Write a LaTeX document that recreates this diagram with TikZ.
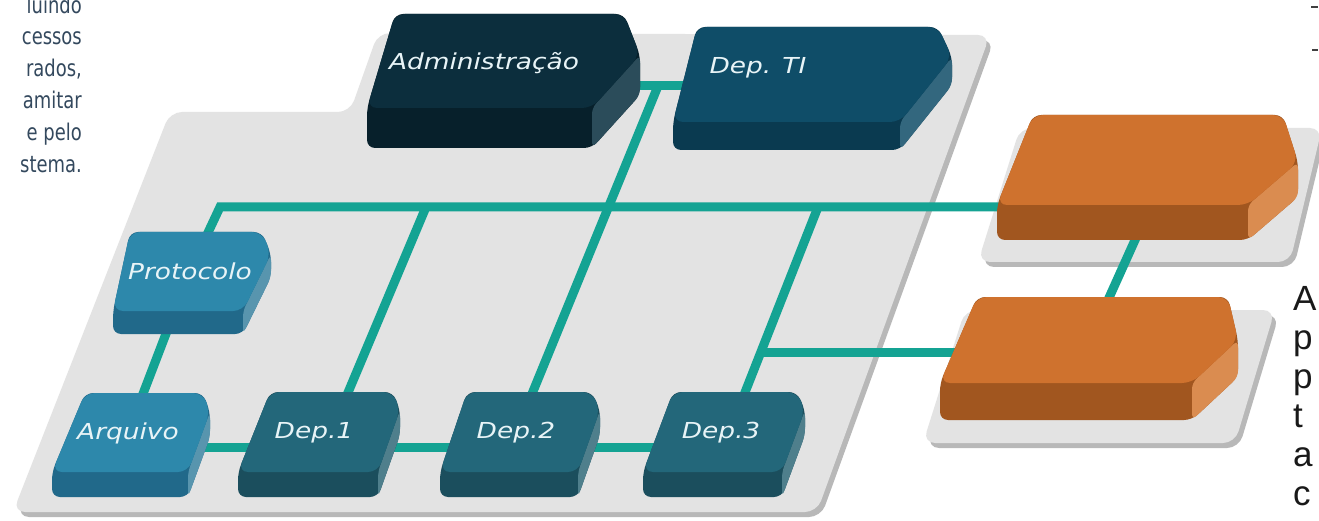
\documentclass[tikz,border=0pt]{standalone}
\usepackage{fontspec}
\usetikzlibrary{calc}
\newfontfamily\lblfont[FakeStretch=1.2]{DejaVu Sans}
\newfontfamily\leftfont[FakeStretch=0.78]{DejaVu Sans}
\newfontfamily\rightfont{Liberation Sans}
\definecolor{plat}{HTML}{E3E3E3}
\definecolor{platsh}{HTML}{B8B8B8}
\definecolor{teal}{HTML}{14A393}
\definecolor{admtop}{HTML}{0C2E3D}
\definecolor{admfront}{HTML}{07202B}
\definecolor{admside}{HTML}{2B4C5A}
\definecolor{titop}{HTML}{0F4D68}
\definecolor{tifront}{HTML}{0A3A50}
\definecolor{tiside}{HTML}{33677E}
\definecolor{protop}{HTML}{2D88AB}
\definecolor{profront}{HTML}{21698A}
\definecolor{proside}{HTML}{5895AE}
\definecolor{deptop}{HTML}{23677A}
\definecolor{depfront}{HTML}{1B4E5D}
\definecolor{depside}{HTML}{4F7F8C}
\definecolor{orgtop}{HTML}{CF722E}
\definecolor{orgfront}{HTML}{A1561F}
\definecolor{orgside}{HTML}{DA8C50}
\definecolor{lbl}{HTML}{E8F4F7}
\definecolor{lefttext}{HTML}{34495E}
\pgfdeclarelayer{bg}
\pgfdeclarelayer{net}
\pgfsetlayers{bg,net,main}
\newcommand{\cubeshape}[7]{%
  \fill[#7front, rounded corners=8] (#1) -- (#2) -- (#3) -- ($(#3)+(0,#6)$) -- ($(#4)+(0,#6)$) -- ($(#5)+(0,#6)$) -- (#5) -- cycle;
  \fill[#7side, rounded corners=6] (#3) -- ($(#3)+(0,#6)$) -- ($(#4)+(0,#6)$) -- (#4) -- cycle;
  \fill[#7top, rounded corners=10] (#1) -- (#2) -- (#3) -- (#4) -- (#5) -- cycle;
}
\tikzset{
  net/.style={draw=teal, line width=9pt},
  lblnode/.style={text=lbl, font=\lblfont\itshape\fontsize{22}{24}\selectfont, inner sep=0pt},
  anchornode/.style={inner sep=0pt, minimum size=0pt},
  leftline/.style={text=lefttext, font=\leftfont\fontsize{23}{25}\selectfont, anchor=base east, inner sep=0pt},
  rightline/.style={text=black!90, font=\rightfont\fontsize{35}{37}\selectfont, anchor=base west, inner sep=0pt},
  platform/.style={fill=plat, rounded corners=12},
  platshadow/.style={fill=platsh, rounded corners=12},
  remnant/.style={draw=black!75, line width=1.6pt}
}
\begin{document}
\begin{tikzpicture}[x=1pt,y=-1pt]
\useasboundingbox (0,0) rectangle (1319,521);
% platforms
\begin{pgfonlayer}{bg}
  \fill[white] (0,0) rectangle (1319,521);
  \begin{scope}[shift={(4,5)}]
    \fill[platshadow] (170,112) -- (350,112) -- (378,33) -- (990,35) -- (817,512) -- (13,512) -- cycle;
    \fill[platshadow] (1020,128) -- (1322,128) -- (1290,262) -- (978,262) -- cycle;
    \fill[platshadow] (965,310) -- (1275,310) -- (1235,443) -- (923,443) -- cycle;
  \end{scope}
  \fill[platform] (170,112) -- (350,112) -- (378,33) -- (990,35) -- (817,512) -- (13,512) -- cycle;
  \fill[platform] (1020,128) -- (1322,128) -- (1290,262) -- (978,262) -- cycle;
  \fill[platform] (965,310) -- (1275,310) -- (1235,443) -- (923,443) -- cycle;
\end{pgfonlayer}
% boxes
\cubeshape{395,14}{624,14}{640,55}{592,108}{367,108}{40}{adm}
\node[lblnode] (adm) at (484,63) {Administração};
\cubeshape{697,27}{938,27}{952,57}{900,122}{673,122}{28}{ti}
\node[lblnode] (ti) at (758,68) {Dep. TI};
\cubeshape{130,232}{262,232}{271,254}{243,311}{113,311}{23}{pro}
\node[lblnode] (prot) at (190,271) {Protocolo};
\cubeshape{85,393}{203,393}{210,412}{188,472}{52,472}{25}{pro}
\node[lblnode] (arq) at (128,433) {Arquivo};
\cubeshape{270,392}{393,392}{400,410}{378,472}{238,472}{25}{dep}
\node[lblnode] (dep1) at (314,433) {Dep.1};
\cubeshape{467,392}{592,392}{600,410}{578,472}{440,472}{25}{dep}
\node[lblnode] (dep2) at (516,433) {Dep.2};
\cubeshape{673,392}{797,392}{805,410}{782,472}{643,472}{25}{dep}
\node[lblnode] (dep3) at (721,433) {Dep.3};
\cubeshape{1033,115}{1283,115}{1298,162}{1248,205}{997,205}{35}{org}
\node[anchornode] (orgA) at (1140,160) {};
\cubeshape{977,297}{1228,297}{1238,340}{1192,383}{940,383}{37}{org}
\node[anchornode] (orgB) at (1090,340) {};
% connectors
\begin{pgfonlayer}{net}
  \coordinate (busL) at (220,207);
  \coordinate (j1) at (426,207);
  \coordinate (jA) at (658,86);
  \coordinate (j3) at (818,207);
  \coordinate (j4) at (760,352);
  \draw[net] (prot) -- (arq);
  \draw[net] (prot) -- (busL) -- (busL -| orgA);
  \draw[net] (j1) -- ([xshift=17pt]dep1.center);
  \draw[net] (jA -| adm) -- (jA -| ti);
  \draw[net] (jA) -- (dep2);
  \draw[net] (j3) -- ([xshift=8pt]dep3.center);
  \draw[net] (j4) -- (j4 -| orgB);
  \draw[net] ([xshift=31pt]orgA.center) -- (orgB);
  \draw[net] ([yshift=-14pt]arq.center) -- ([yshift=-14pt]dep3.center);
\end{pgfonlayer}
% side texts
\node[leftline] (l1) at (82,14) {luindo};
\node[leftline] (l2) at (82,45) {cessos};
\node[leftline] (l3) at (82,77) {rados,};
\node[leftline] (l4) at (82,109) {amitar};
\node[leftline] (l5) at (82,141) {e pelo};
\node[leftline] (l6) at (82,173) {stema.};
\node[rightline] (r1) at (1293,310) {A};
\node[rightline] (r2) at (1293,349) {p};
\node[rightline] (r3) at (1293,388) {p};
\node[rightline] (r4) at (1293,427) {t};
\node[rightline] (r5) at (1293,466) {a};
\node[rightline] (r6) at (1293,505) {c};
\draw[remnant] (1311,7) -- (1318,7);
\draw[remnant] (1312,50) -- (1318,50);
\end{tikzpicture}
\end{document}
